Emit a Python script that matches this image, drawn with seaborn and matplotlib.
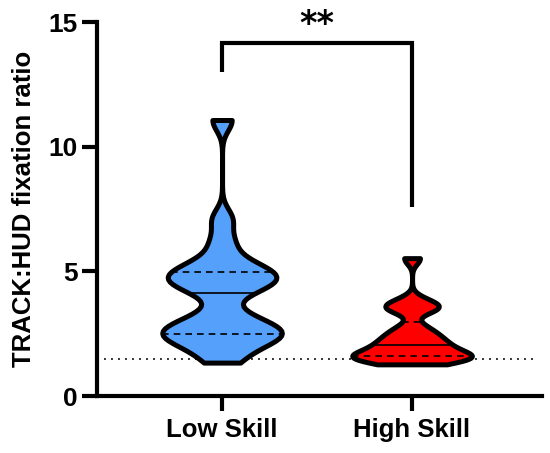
import numpy as np
import pandas as pd
import seaborn as sns
import matplotlib.pyplot as plt

# ---- data ----
categories = ["Low Skill", "High Skill"]
low_skill = [1.34, 1.8, 2.1, 2.3, 2.45, 2.5, 2.65, 2.8, 3.0, 3.3,
             4.12, 4.4, 4.55, 4.7, 4.85, 4.97, 5.15, 5.5, 6.2, 7.1, 11.07]
high_skill = [1.27, 1.4, 1.48, 1.53, 1.57, 1.6, 1.65, 1.76, 1.9, 2.0,
              2.1, 2.25, 2.4, 2.55, 2.8, 3.45, 3.55, 3.62, 3.85, 5.53]
colors = ["#55A0FA", "#FF0000"]
y_ticks = [0, 5, 10, 15]
threshold = 1.5
sig_label = "**"
bracket_left_low = 13.0
bracket_top = 14.16
bracket_right_low = 7.58

sns.set_theme(style="ticks")
plt.rcParams['font.family'] = ['Liberation Sans', 'DejaVu Sans']
plt.rcParams['font.weight'] = 'bold'
for k in ["text.color", "axes.labelcolor", "xtick.color", "ytick.color",
          "xtick.labelcolor", "ytick.labelcolor"]:
    plt.rcParams[k] = "black"

fig = plt.figure(figsize=(5.5, 4.53), dpi=100)
ax = fig.add_axes([0.1764, 0.1258, 0.8091, 0.8256])

bws = [0.19, 0.22]
for cat, vals, col, bw in zip(categories, [low_skill, high_skill], colors, bws):
    df = pd.DataFrame({"group": [cat] * len(vals), "value": vals})
    n0 = len(ax.lines)
    sns.violinplot(data=df, x="group", y="value", order=categories, color=col,
                   saturation=1, inner="quart", cut=0, bw_method=bw,
                   density_norm="width", width=0.63, linewidth=3.6,
                   linecolor="black",
                   inner_kws=dict(linewidth=1.2, color="black"), ax=ax)
    for i, ln in enumerate(ax.lines[n0:]):
        if i % 3 == 1:
            ln.set_linestyle("-")
        else:
            ln.set_linestyle((0, (4, 3)))

ax.axhline(threshold, xmin=0, xmax=0.989, color="#333333", lw=1.4,
           ls=(0, (1, 2.6)), zorder=0.5)

ax.set_xlim(-0.658, 1.684)
ax.set_ylim(0, 15)
ax.set_yticks(y_ticks)
ax.set_xlabel("")
ax.set_ylabel("TRACK:HUD fixation ratio", fontsize=18.5, fontweight="bold",
              labelpad=9)

sns.despine(ax=ax)
for s in ["left", "bottom"]:
    ax.spines[s].set_linewidth(3)
    ax.spines[s].set_color("black")
ax.tick_params(axis="both", width=3, length=11, color="black")
ax.tick_params(axis="y", labelsize=19, pad=3)
ax.tick_params(axis="x", labelsize=18.5, pad=4.5)
for lab in ax.get_xticklabels() + ax.get_yticklabels():
    lab.set_fontweight("bold")

# significance bracket
ax.plot([0, 0, 1, 1], [bracket_left_low, bracket_top, bracket_top, bracket_right_low],
        color="black", lw=3, clip_on=False, solid_joinstyle="miter",
        solid_capstyle="butt")
ax.text(0.5, 14.5, sig_label, ha="center", va="baseline", fontsize=24,
        fontweight="bold", family="DejaVu Sans", clip_on=False)

fig.savefig("out.png", dpi=100)
